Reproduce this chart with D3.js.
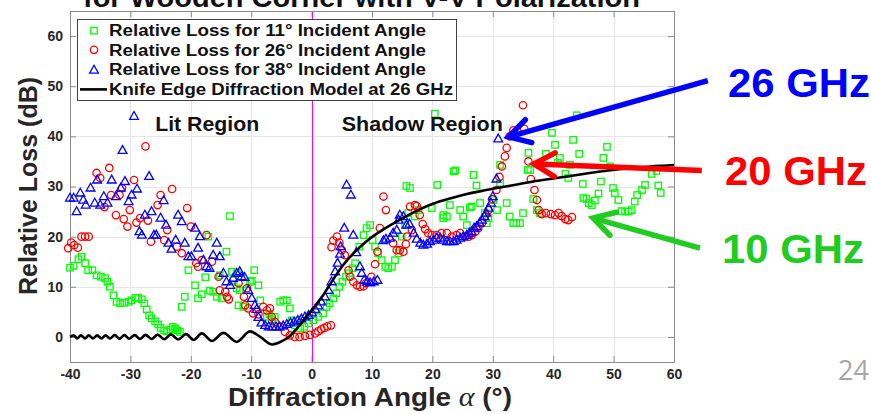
<!DOCTYPE html>
<html>
<head>
<meta charset="utf-8">
<script src="https://cdn.jsdelivr.net/npm/d3@7"></script>
<style>
  html, body { margin: 0; padding: 0; background: #ffffff; }
  svg { display: block; font-family: "Liberation Sans", Arial, Helvetica, sans-serif; }
</style>
</head>
<body>
<svg id="chart" width="871" height="414"></svg>
<script>
// ---- data -------------------------------------------------------------
const xTicks = [-40, -30, -20, -10, 0, 10, 20, 30, 40, 50, 60];
const yTicks = [0, 10, 20, 30, 40, 50, 60];

const legendLabels = [
  "Relative Loss for 11\u00B0 Incident Angle",
  "Relative Loss for 26\u00B0 Incident Angle",
  "Relative Loss for 38\u00B0 Incident Angle",
  "Knife Edge Diffraction Model at 26 GHz"
];

// [diffraction angle (deg), relative loss (dB)]
const loss11 = [
  [-40,13.8],[-39.4,14.2],[-38.6,15.5],[-38.1,16],[-37.5,14.7],[-37,13.3],[-36.3,13.3],[-35.6,12.3],
  [-34.9,12],[-34.2,11.7],[-33.8,11],[-33.4,10],[-32.8,8.3],[-32.3,7],[-31.7,6.7],[-31,6.8],
  [-30.3,7],[-29.8,7.3],[-29.2,7.8],[-28.7,7.8],[-28.1,7.5],[-27.7,6.7],[-27.3,5.5],[-26.9,4.3],
  [-26.5,3.7],[-25.9,3.1],[-25.4,2.5],[-25,1.8],[-24.4,1.3],[-24,1.1],[-23.4,1.5],[-23,2],
  [-22.6,1.7],[-22.2,1.3],[-21.8,1],
  [-21.5,6],[-21,8],[-20.4,13.3],[-19.3,10.3],[-18.8,7.7],[-18.2,8.5],[-17.6,11.9],[-17.1,20],
  [-16.9,9.2],[-16.3,9],[-15.7,8],[-14.9,7.7],[-15.2,12.3],[-14.1,17],[-13.5,24.1],[-13.2,13],
  [-12.4,12.7],[-12.9,11.3],[-12.4,9.7],[-11.9,9.3],[-12.1,6.3],[-11.3,6],[-10.8,9.3],[-10.2,11],
  [-9.5,13.3],[-9.9,11.2],[-8.8,10.3],[-8.5,7.3],[-7.4,4],[-7,4.6],[-6.6,3.5],[-6.1,4],
  [-5.2,7],[-4.7,7.3],[-4.1,7.3],[-3.6,5.7],[-3.3,3.3],[-2.7,2.3],[-1.9,1.7],[-1.2,2],[-0.5,2.7],
  [0.3,3.3],[1.1,4],[1.9,4.7],[2.5,6],[3,6.7],[3.6,7.7],[4.1,8.7],[4.6,10],[5.1,11],[5.7,12],
  [6.2,12.7],[6.8,13.7],[7.2,14.7],[7.9,18],[8.6,20.3],[9.1,21.7],[9.7,22.3],[10.1,19.3],
  [10.5,18],[11,16.7],[11.6,15.3],[12.2,14],[12.7,13.7],[13.3,14],[13.8,15.3],[14.4,16.7],
  [14.9,20],[15.5,22.3],[16,24.7],[15.7,30.1],[16.3,29.7],[17.1,24],[17.7,25.3],[19.9,25.7],
  [20.4,44.5],[20.8,30.3],[21.8,24.3],[21.8,23.7],[22.4,24],[22.9,26.3],[23.5,33],[23.8,33.2],
  [24.6,25.3],[25.1,24],[25.7,22.3],[26.2,25.8],[26.5,26],[26.8,32.3],[27.3,30.2],[27.9,26.7],
  [28.7,24.7],[29,22.7],[29.3,23.7],[30.1,27.3],[30.7,25.3],[31.2,30.7],[31.2,34.3],[32.3,26.7],
  [32.8,24],[33.4,22.7],[33.9,22.7],[34.5,22.7],[35,24.7],[35.9,36.7],[35.8,33.3],[36.2,33.3],
  [36.7,27.5],[37.3,25.3],[37.8,24.7],[38.8,36.5],[39.8,40.7],[40.3,38.3],[40.8,34.7],[41.1,35.7],
  [42,32.5],[42.5,31.7],[42.8,34.3],[43.3,39.3],[43.9,44.2],[44.3,36.5],[44.9,30.5],[45,27.7],
  [45.5,27.5],[45.9,26.7],[46.4,26.3],[46.9,27.2],[47.5,28.6],[47.9,31],[48.3,35.7],[48.9,37.9],
  [49.4,34],[49.9,29.7],[50.2,28.7],[50.8,27.3],[51.3,25.1],[51.9,25],[52.5,25],[53,25.3],
  [53.5,27],[53.9,28.3],[54.7,29.3],[55.2,30.3],[56.3,32.5],[57.1,33.1],[57.4,30.2],[57.8,28.7]
];

const loss26 = [
  [-40.3,17.7],[-39.8,18.8],[-39.3,18.3],[-38.7,17.8],[-38.1,20],[-37.5,20],[-36.9,20],
  [-35.6,32.7],[-35,31.7],[-34.3,25.9],[-33.5,33.7],[-33.2,28.3],[-32.4,24.3],[-31.8,28.3],
  [-31.4,29.7],[-31.1,23.5],[-30.5,22],[-30.1,25.3],[-29.4,31.3],[-29,22.8],[-28.4,23.7],
  [-27.5,38],[-27.1,23.2],[-26.6,19],[-25.5,26.3],[-25,28.3],[-24.4,19.3],[-23.9,21.3],
  [-23.1,29.5],[-22.3,18],[-21.5,16.7],[-20.6,25.7],[-20,22],[-19.1,14.7],[-18.8,14],
  [-18.2,15.3],[-17.4,20.3],[-16.5,15],[-15.4,12],[-15.2,9.3],[-14.3,9],[-14,8],[-13.7,7.5],
  [-12.1,10.7],[-11.2,8],[-10.7,9.7],[-11,6.3],[-10.5,5.7],[-9.7,4.7],[-8.8,4.5],[-8,6],
  [-7.4,5.3],[-6.9,5.7],[-6.6,4],[-6.1,3],[-5.2,2],[-4.4,1],[-3.6,0.3],[-2.8,0],[-2,0],
  [-1.1,0.2],[-0.3,0.4],[0.6,0.7],[1.1,1.1],[1.6,1.5],[2.1,1.8],[2.6,2.1],[3.2,2.3],
  [3.3,17.9],[3.6,19.2],[4.2,20],[4.6,18.8],[5,17.3],[5.5,16.3],[6.1,13.3],[6.4,12],[6.9,11],
  [7.5,10.3],[8,10],[8.6,10.1],[9,10.7],[9.9,12],[10.5,14.5],[10.9,17],[11.3,21.7],[11.9,28],
  [12.3,25.3],[13.5,18.7],[14.1,17.3],[14.6,17.3],[15.2,17],[15.6,18.5],[15.8,20],[16.6,21.3],
  [16.3,26],[17.1,26.3],[17.4,26.1],[17.9,24.3],[18.4,22.5],[18.8,21.5],[19.3,20.7],[19.9,20.3],
  [20.7,20.3],[21.5,20.7],[22.4,20.7],[23.2,20],[24,20.3],[24.6,20.7],[25.4,20],[26,20],
  [26.5,20.3],[27.1,21],[27.6,21.7],[28.2,22.7],[28.7,24],[29.3,25.3],[29.9,27.5],[30.6,29.3],
  [31.1,31.9],[31.5,34],[32,36],[32.3,37.7],[32.8,40],[33.4,41.2],[35,46.2],[35.2,41.5],
  [35.9,35],[36.3,31.5],[36.9,29.3],[37.3,27.3],[37.6,25.3],[38.1,24.5],[38.8,24.7],[39.6,24.5],
  [40.3,24.3],[40.9,24.7],[41.4,24.1],[42,23.5],[42.5,23.3],[43.1,23.9]
];

const loss38 = [
  [-40,27.7],[-39.4,27.7],[-38.9,25],[-38.3,28.7],[-37.8,27.3],[-37.4,26.3],[-36.6,29.7],
  [-35.9,26.7],[-35.5,31.3],[-35,26.3],[-34.4,28],[-33.8,26.7],[-33.1,31.3],[-32.4,28],
  [-31.6,29.7],[-31.3,37.2],[-30.9,31],[-30.3,27],[-29.8,28.3],[-29.4,44],[-28.9,29.5],
  [-28.5,21],[-28.1,20.3],[-27.6,24.3],[-26.9,32],[-26.5,25],[-26.1,20.3],[-25.7,20.3],
  [-25,23.7],[-24.5,27.2],[-24.1,22.3],[-23.7,18.7],[-23.2,17.5],[-22.5,19.3],[-22.1,24.3],
  [-21.5,23],[-21,18.7],[-20.4,16],[-19.9,16],[-19.3,21.7],[-18.8,17.7],[-18.5,20],[-17.9,15.3],
  [-17.4,14],[-16.9,13.7],[-16.3,16.3],[-15.7,18.7],[-15.2,16],[-14.6,12.7],[-14.1,11],
  [-13.5,10.3],[-13,11.7],[-12.4,12.7],[-11.9,13],[-11.6,12],[-11.1,11.9],[-10.5,9.3],
  [-9.9,7.7],[-9.4,6.3],[-9.1,5.5],[-8.8,3.9],[-8.3,2.8],[-7.7,2.3],[-7.1,2],[-6.5,2],
  [-5.9,2],[-5.3,2],[-4.7,2.2],[-4.1,2.5],[-3.5,2.8],[-2.9,3],[-2.3,3.3],[-1.7,3.6],[-1.1,4],
  [-0.5,4.3],[0.1,4.8],[0.6,5.5],[1.1,6.2],[1.6,7],[2.2,8],[2.8,9.3],[3.3,11],[3.9,13],
  [4.3,14.7],[4.7,16.5],[4.8,18],[5.4,21.7],[5.8,30.3],[6.5,28.3],[6.9,20.3],[7.4,16.8],
  [8,14],[8.3,12.7],[8.7,11.3],[9.2,11],[9.7,10.8],[10.3,11],[10.9,11.3],[11.9,19.2],
  [12.3,19.5],[13,19.7],[13.5,20.7],[14.1,21.3],[14.4,23.3],[14.6,24.3],[15.2,24],[15.7,22.3],
  [16.2,22.5],[16.9,20.7],[17.4,19.5],[18,18.7],[18.5,18.3],[19.1,18.5],[19.6,19],[20.2,19.3],
  [20.7,19.7],[21.3,19.7],[21.8,19.3],[22.4,19],[22.9,19],[23.5,19],[24,19.3],[24.6,19.7],
  [25.1,20],[25.7,20.3],[26.1,20.7],[26.5,21],[26.9,21.7],[27.3,22],[27.8,22.7],[28.2,23.3],
  [28.6,24],[28.9,24.7],[29.3,25.7],[29.7,26.7],[30,28],[30.6,31.5],[30.9,39.5]
];

// knife edge diffraction model at 26 GHz
const knifeEdge = [
  [-40,0],[-39.4,0.3],[-38.8,-0.3],[-38.2,0.3],[-37.5,-0.3],[-36.9,0.3],[-36.2,-0.3],[-35.5,0.3],
  [-34.8,-0.3],[-34.1,0.3],[-33.4,-0.3],[-32.6,0.35],[-31.8,-0.35],[-31,0.35],[-30.2,-0.35],
  [-29.3,0.35],[-28.4,-0.4],[-27.5,0.4],[-26.5,-0.4],[-25.5,0.45],[-24.4,-0.45],[-23.3,0.5],
  [-22.1,-0.5],[-20.8,0.55],[-19.5,-0.6],[-18.2,0.7],[-16.5,-0.8],[-14.6,0.8],[-12.4,-1.0],
  [-10.2,1.1],[-8.5,0],[-6.5,-1.5],[-5,-0.9],[-3.8,0],[-2.5,1.6],[-1.2,3.5],[0,5.3],[1.9,8.3],
  [3.6,11.5],[5.2,14.3],[7.2,17],[9.1,19.1],[11.3,21],[13.5,22.6],[15.7,24.1],[18,25.5],
  [20.2,26.6],[22.9,27.6],[25.7,28.5],[28.5,29.2],[31.2,29.8],[34,30.4],[36.7,31],[39.5,31.5],
  [42.3,32],[45,32.5],[47.8,33],[50.6,33.4],[53.3,33.7],[56.1,34],[58.8,34.2],[60,34.3]
];

const regionNames = ["Lit Region", "Shadow Region"];
const bandNames = ["26 GHz", "20 GHz", "10 GHz"];

// ---- layout -----------------------------------------------------------
const svg = d3.select("#chart");
const plot = { left: 70, right: 674, top: 11, bottom: 362 };
const x = d3.scaleLinear().domain([-40, 60]).range([plot.left, plot.right]);
const y = d3.scaleLinear().domain([-5, 65]).range([plot.bottom, plot.top]);

const frameColor = "#8a8a8a";
const labelColor = "#262626";
const cGreen = "#00ff00", cRed = "#ff0000", cBlue = "#0000ff";

// title line, partly above the top edge
svg.append("text")
  .attr("x", 83).attr("y", 7)
  .attr("font-size", 28).attr("font-weight", "bold").attr("fill", "#111")
  .attr("textLength", 557).attr("lengthAdjust", "spacingAndGlyphs")
  .text("for Wooden Corner with V-V Polarization");

// grid
const grid = svg.append("g").attr("stroke", "#e6e6e6").attr("stroke-width", 1);
grid.selectAll("line.gx").data(xTicks.slice(1, -1)).join("line")
  .attr("x1", d => Math.round(x(d)) + 0.5).attr("x2", d => Math.round(x(d)) + 0.5)
  .attr("y1", plot.top).attr("y2", plot.bottom);
grid.selectAll("line.gy").data(yTicks).join("line")
  .attr("y1", d => Math.round(y(d)) + 0.5).attr("y2", d => Math.round(y(d)) + 0.5)
  .attr("x1", plot.left).attr("x2", plot.right);

// axes (ticks point inward)
function styleAxis(g) {
  g.attr("font-family", "'Liberation Sans', Arial, sans-serif")
   .attr("font-size", 14).attr("font-weight", "bold");
  g.select(".domain").remove();
  g.selectAll(".tick line").attr("stroke", frameColor);
  g.selectAll(".tick text").attr("fill", labelColor);
}
svg.append("g").attr("transform", `translate(0,${plot.bottom})`)
  .call(d3.axisBottom(x).tickValues(xTicks).tickSizeInner(-6).tickSizeOuter(0)
        .tickPadding(7).tickFormat(d => String(d)))
  .call(styleAxis);
svg.append("g").attr("transform", `translate(0,${plot.top})`)
  .call(d3.axisTop(x).tickValues(xTicks).tickSizeInner(-6).tickSizeOuter(0).tickFormat(""))
  .call(styleAxis);
svg.append("g").attr("transform", `translate(${plot.left},0)`)
  .call(d3.axisLeft(y).tickValues(yTicks).tickSizeInner(-6).tickSizeOuter(0)
        .tickPadding(7).tickFormat(d => String(d)))
  .call(styleAxis);
svg.append("g").attr("transform", `translate(${plot.right},0)`)
  .call(d3.axisRight(y).tickValues(yTicks).tickSizeInner(-6).tickSizeOuter(0).tickFormat(""))
  .call(styleAxis);

svg.append("rect")
  .attr("x", plot.left + 0.5).attr("y", plot.top + 0.5)
  .attr("width", plot.right - plot.left).attr("height", plot.bottom - plot.top)
  .attr("fill", "none").attr("stroke", frameColor).attr("stroke-width", 1);

// shadow boundary at 0 degrees
svg.append("line")
  .attr("x1", Math.round(x(0)) + 0.5).attr("x2", Math.round(x(0)) + 0.5)
  .attr("y1", plot.top + 1).attr("y2", plot.bottom)
  .attr("stroke", "#ff00ff").attr("stroke-width", 1);

// marker shapes
const sq = 6.4;
const triPath = "M0,-4.8L4.4,3L-4.4,3Z";

const marks = svg.append("g").attr("fill", "none").attr("stroke-width", 1.3);
marks.append("g").attr("stroke", cGreen)
  .selectAll("rect").data(loss11).join("rect")
  .attr("x", d => x(d[0]) - sq / 2).attr("y", d => y(d[1]) - sq / 2)
  .attr("width", sq).attr("height", sq);
marks.append("g").attr("stroke", cRed)
  .selectAll("circle").data(loss26).join("circle")
  .attr("cx", d => x(d[0])).attr("cy", d => y(d[1])).attr("r", 3.7);
marks.append("g").attr("stroke", cBlue)
  .selectAll("path").data(loss38).join("path")
  .attr("transform", d => `translate(${x(d[0])},${y(d[1])})`)
  .attr("d", triPath);

// model curve
const line = d3.line().x(d => x(d[0])).y(d => y(d[1])).curve(d3.curveMonotoneX);
svg.append("path").datum(knifeEdge)
  .attr("d", line).attr("fill", "none")
  .attr("stroke", "#000").attr("stroke-width", 2.6).attr("stroke-linejoin", "round");

// region labels
svg.append("text").attr("x", x(-25.9)).attr("y", y(41.1))
  .attr("font-size", 20).attr("font-weight", "bold").attr("fill", "#111")
  .attr("textLength", 104).attr("lengthAdjust", "spacingAndGlyphs")
  .text(regionNames[0]);
svg.append("text").attr("x", x(5.0)).attr("y", y(41.1))
  .attr("font-size", 20).attr("font-weight", "bold").attr("fill", "#111")
  .attr("textLength", 161).attr("lengthAdjust", "spacingAndGlyphs")
  .text(regionNames[1]);

// legend
const lg = svg.append("g");
lg.append("rect").attr("x", 77.5).attr("y", 19.5).attr("width", 379).attr("height", 81)
  .attr("fill", "#fff").attr("stroke", "#404040").attr("stroke-width", 1);
const rowY = [30.7, 49.8, 69.6, 89.4];
const textW = [317, 317, 317, 344];
legendLabels.forEach((t, i) => {
  lg.append("text").attr("x", 109).attr("y", rowY[i]).attr("dy", "0.36em")
    .attr("font-size", 16).attr("font-weight", "bold").attr("fill", "#111")
    .attr("textLength", textW[i]).attr("lengthAdjust", "spacingAndGlyphs")
    .text(t);
});
lg.append("rect").attr("x", 94 - sq / 2).attr("y", rowY[0] - sq / 2).attr("width", sq).attr("height", sq)
  .attr("fill", "none").attr("stroke", cGreen).attr("stroke-width", 1.3);
lg.append("circle").attr("cx", 94).attr("cy", rowY[1]).attr("r", 3.7)
  .attr("fill", "none").attr("stroke", cRed).attr("stroke-width", 1.3);
lg.append("path").attr("transform", `translate(94,${rowY[2] + 0.5})`).attr("d", triPath)
  .attr("fill", "none").attr("stroke", cBlue).attr("stroke-width", 1.3);
lg.append("line").attr("x1", 80).attr("x2", 107).attr("y1", rowY[3]).attr("y2", rowY[3])
  .attr("stroke", "#000").attr("stroke-width", 2.6);

// axis titles
svg.append("text")
  .attr("transform", "translate(37,186) rotate(-90)")
  .attr("text-anchor", "middle")
  .attr("font-size", 25).attr("font-weight", "bold").attr("fill", labelColor)
  .text("Relative Loss (dB)");

const xt = svg.append("text").attr("x", 228).attr("y", 406)
  .attr("font-size", 25).attr("font-weight", "bold").attr("fill", labelColor)
  .attr("textLength", 284).attr("lengthAdjust", "spacingAndGlyphs");
xt.append("tspan").text("Diffraction Angle ");
xt.append("tspan").attr("font-family", "'Liberation Serif', 'DejaVu Serif', serif")
  .attr("font-style", "italic").attr("font-weight", "normal").attr("font-size", 27).text("\u03B1");
xt.append("tspan").text(" (\u00B0)");

// frequency call-outs with arrows (tip and tail given in chart units)
const callouts = [
  { name: bandNames[0], color: "#0000ff", tip: [32.6, 39.9], tail: [65.6, 51.1], tx: 728, ty: 97 },
  { name: bandNames[1], color: "#ff0000", tip: [36.8, 34.5], tail: [64.6, 33.2], tx: 725, ty: 185 },
  { name: bandNames[2], color: "#1fcc1f", tip: [46.6, 23.7], tail: [64.3, 17.7], tx: 722, ty: 263 }
];
callouts.forEach(c => {
  const tx = x(c.tip[0]), ty = y(c.tip[1]);
  const sx = x(c.tail[0]), sy = y(c.tail[1]);
  const ang = Math.atan2(sy - ty, sx - tx);
  const len = 24, spread = 0.52;
  const a1 = [tx + len * Math.cos(ang - spread), ty + len * Math.sin(ang - spread)];
  const a2 = [tx + len * Math.cos(ang + spread), ty + len * Math.sin(ang + spread)];
  svg.append("line").attr("x1", sx).attr("y1", sy).attr("x2", tx + 2 * Math.cos(ang)).attr("y2", ty + 2 * Math.sin(ang))
    .attr("stroke", c.color).attr("stroke-width", 5.5);
  svg.append("path").attr("d", `M${a1[0]},${a1[1]}L${tx},${ty}L${a2[0]},${a2[1]}`)
    .attr("fill", "none").attr("stroke", c.color).attr("stroke-width", 5.5)
    .attr("stroke-linejoin", "miter").attr("stroke-linecap", "round");
  svg.append("text").attr("x", c.tx).attr("y", c.ty)
    .attr("font-size", 40).attr("font-weight", "bold").attr("fill", c.color)
    .attr("textLength", 142).attr("lengthAdjust", "spacingAndGlyphs")
    .text(c.name);
});

// page number
svg.append("text").attr("x", 838).attr("y", 380)
  .attr("font-family", "'Open Sans', 'Noto Sans', sans-serif")
  .attr("font-size", 27).attr("fill", "#a6a6a6")
  .text("24");
</script>
</body>
</html>
